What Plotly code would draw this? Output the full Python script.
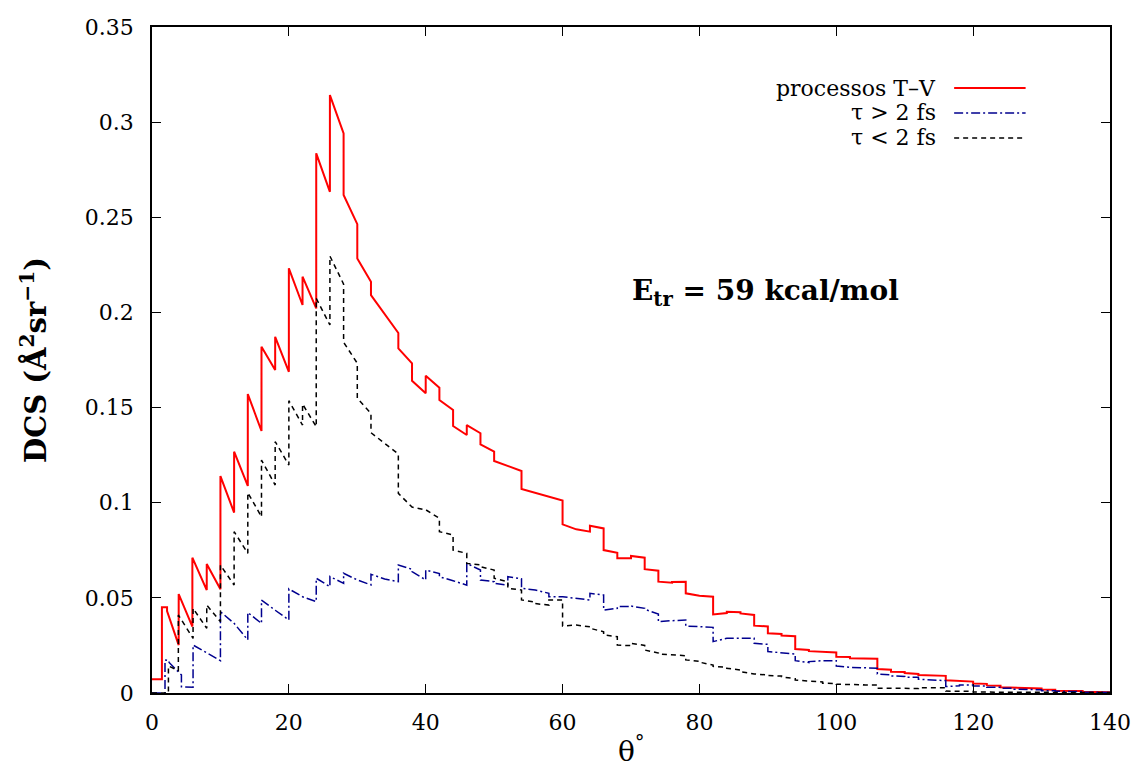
import plotly.graph_objects as go

# ---------------- data ----------------
# Each series is a histogram-like DCS curve: for every bin, the value at its
# left edge and at its right edge (the curve decays inside each bin).
red_edges = [0, 1.45, 2.2, 3.9, 5.9] + list(range(8, 141, 2))
red_start = [0.0072, 0.0450, 0.0430, 0.0520, 0.0711, 0.0678, 0.1140, 0.1268, 0.1571, 0.1820,
             0.1872, 0.2232, 0.2188, 0.2836, 0.3142, 0.2617, 0.2284, 0.2091, 0.1990, 0.1811,
             0.1641, 0.1667, 0.1540, 0.1403, 0.1408, 0.1307, 0.1219, 0.1193, 0.1072, 0.1052,
             0.1032, 0.0886, 0.0860, 0.0879, 0.0751, 0.0708, 0.0720, 0.0651, 0.0585, 0.0583,
             0.0524, 0.0511, 0.0413, 0.0427, 0.0418, 0.0354, 0.0314, 0.0302, 0.0231, 0.0220,
             0.0215, 0.0191, 0.0182, 0.0180, 0.0126, 0.0112, 0.0105, 0.0095, 0.0092, 0.0067,
             0.0063, 0.0050, 0.0040, 0.0030, 0.0026, 0.0025, 0.0018, 0.0012, 0.0011, 0.0006,
             0.0005]
red_end = [0.0072, 0.0450, 0.0252, 0.0349, 0.0541, 0.0545, 0.0948, 0.1088, 0.1377, 0.1697,
           0.1688, 0.2039, 0.2021, 0.2634, 0.2941, 0.2464, 0.2161, 0.1990, 0.1892, 0.1732,
           0.1575, 0.1604, 0.1487, 0.1356, 0.1365, 0.1268, 0.1193, 0.1167, 0.1052, 0.1032,
           0.1011, 0.0860, 0.0848, 0.0865, 0.0737, 0.0708, 0.0711, 0.0643, 0.0580, 0.0585,
           0.0511, 0.0506, 0.0420, 0.0424, 0.0410, 0.0350, 0.0310, 0.0298, 0.0226, 0.0218,
           0.0213, 0.0189, 0.0181, 0.0180, 0.0122, 0.0110, 0.0100, 0.0092, 0.0090, 0.0065,
           0.0060, 0.0048, 0.0038, 0.0029, 0.0025, 0.0024, 0.0017, 0.0012, 0.0010, 0.0006,
           0.0004]

blue_edges = [0, 1.9, 2.5, 4.3] + list(range(6, 141, 2))
blue_start = [0.0000, 0.0173, 0.0160, 0.0033, 0.0252, 0.0212, 0.0427, 0.0366, 0.0423, 0.0488,
              0.0435, 0.0547, 0.0506, 0.0603, 0.0612, 0.0629, 0.0594, 0.0624, 0.0599, 0.0673,
              0.0638, 0.0646, 0.0611, 0.0590, 0.0681, 0.0594, 0.0576, 0.0611, 0.0550, 0.0541,
              0.0506, 0.0506, 0.0498, 0.0524, 0.0436, 0.0454, 0.0457, 0.0440, 0.0375, 0.0380,
              0.0352, 0.0349, 0.0270, 0.0288, 0.0288, 0.0261, 0.0218, 0.0212, 0.0170, 0.0165,
              0.0170, 0.0142, 0.0135, 0.0133, 0.0100, 0.0090, 0.0083, 0.0072, 0.0068, 0.0034,
              0.0042, 0.0037, 0.0030, 0.0025, 0.0020, 0.0018, 0.0012, 0.0009, 0.0008, 0.0004,
              0.0003]
blue_end = [0.0000, 0.0170, 0.0095, 0.0030, 0.0212, 0.0170, 0.0366, 0.0279, 0.0366, 0.0435,
            0.0384, 0.0506, 0.0480, 0.0559, 0.0576, 0.0594, 0.0568, 0.0599, 0.0585, 0.0650,
            0.0594, 0.0628, 0.0590, 0.0567, 0.0646, 0.0585, 0.0567, 0.0600, 0.0541, 0.0524,
            0.0506, 0.0498, 0.0489, 0.0515, 0.0445, 0.0454, 0.0445, 0.0415, 0.0380, 0.0384,
            0.0349, 0.0345, 0.0288, 0.0288, 0.0288, 0.0256, 0.0212, 0.0205, 0.0160, 0.0170,
            0.0170, 0.0135, 0.0133, 0.0130, 0.0095, 0.0087, 0.0083, 0.0069, 0.0065, 0.0038,
            0.0042, 0.0037, 0.0030, 0.0025, 0.0019, 0.0017, 0.0012, 0.0008, 0.0008, 0.0004,
            0.0003]

black_edges = [0, 2.4, 3.85] + list(range(6, 141, 2))
black_start = [0.0000, 0.0142, 0.0410, 0.0445, 0.0462, 0.0672, 0.0848, 0.1053, 0.1224, 0.1321,
               0.1536, 0.1519, 0.2074, 0.2296, 0.1843, 0.1549, 0.1368, 0.1312, 0.1049, 0.0977,
               0.0963, 0.0848, 0.0751, 0.0681, 0.0664, 0.0603, 0.0550, 0.0489, 0.0470, 0.0489,
               0.0352, 0.0357, 0.0340, 0.0305, 0.0252, 0.0261, 0.0226, 0.0205, 0.0200, 0.0174,
               0.0162, 0.0140, 0.0130, 0.0112, 0.0100, 0.0092, 0.0085, 0.0068, 0.0063, 0.0051,
               0.0046, 0.0044, 0.0042, 0.0025, 0.0025, 0.0024, 0.0028, 0.0028, 0.0010, 0.0010,
               0.0005, 0.0005, 0.0002, 0.0002, 0.0002, 0.0002, 0.0002, 0.0002, 0.0002, 0.0002]
black_end = [0.0000, 0.0118, 0.0287, 0.0340, 0.0375, 0.0567, 0.0734, 0.0926, 0.1093, 0.1198,
             0.1408, 0.1399, 0.1934, 0.2149, 0.1733, 0.1469, 0.1312, 0.1256, 0.0979, 0.0962,
             0.0918, 0.0830, 0.0734, 0.0673, 0.0646, 0.0585, 0.0541, 0.0478, 0.0462, 0.0489,
             0.0357, 0.0348, 0.0322, 0.0296, 0.0249, 0.0250, 0.0210, 0.0200, 0.0196, 0.0167,
             0.0147, 0.0135, 0.0121, 0.0103, 0.0095, 0.0089, 0.0075, 0.0063, 0.0058, 0.0050,
             0.0046, 0.0043, 0.0042, 0.0025, 0.0024, 0.0024, 0.0028, 0.0027, 0.0010, 0.0009,
             0.0005, 0.0004, 0.0002, 0.0002, 0.0002, 0.0002, 0.0002, 0.0002, 0.0002, 0.0002]

x_ticks = [0, 20, 40, 60, 80, 100, 120, 140]
y_ticks = [0, 0.05, 0.1, 0.15, 0.2, 0.25, 0.3, 0.35]
legend_labels = ["processos T–V", "τ > 2 fs", "τ < 2 fs"]


def vertices(edges, starts, ends):
    xs, ys = [], []
    for i in range(min(len(starts), len(ends), len(edges) - 1)):
        xs += [edges[i], edges[i + 1]]
        ys += [starts[i], ends[i]]
    return xs, ys


FONT = "DejaVu Serif"
RED = "#ff0000"
BLUE = "#00008f"
BLACK = "#000000"
DASH_BLUE = "9px,3px,2px,3px"
DASH_BLACK = "5px,4px"

fig = go.Figure()
for edges, s, e, col, w, dash, name in [
    (red_edges, red_start, red_end, RED, 2.0, "solid", legend_labels[0]),
    (blue_edges, blue_start, blue_end, BLUE, 1.5, DASH_BLUE, legend_labels[1]),
    (black_edges, black_start, black_end, BLACK, 1.5, DASH_BLACK, legend_labels[2]),
]:
    xs, ys = vertices(edges, s, e)
    fig.add_trace(go.Scatter(x=xs, y=ys, mode="lines", name=name, showlegend=False,
                             line=dict(color=col, width=w, dash=dash)))

# plot-area geometry (pixels) for placing the custom legend
L, R, T, B = 152, 1117, 27, 693
W, H = R - L, B - T


def px(x):
    return (x - L) / W


def py(y):
    return (B - y) / H


shapes = []
annotations = []
rows = [(88, RED, 2.0, "solid"), (113, BLUE, 1.5, DASH_BLUE), (138, BLACK, 1.5, DASH_BLACK)]
for (yy, col, w, d), lab in zip(rows, legend_labels):
    shapes.append(dict(type="line", xref="paper", yref="paper",
                       x0=px(960), x1=px(1032), y0=py(yy), y1=py(yy),
                       line=dict(color=col, width=w, dash=d)))
    annotations.append(dict(text=lab, xref="paper", yref="paper", x=px(944), y=py(yy),
                            xanchor="right", yanchor="middle", showarrow=False,
                            font=dict(family=FONT, size=22, color="black")))

annotations.append(dict(text="<b>E<sub>tr</sub> = 59 kcal/mol</b>", xref="paper", yref="paper",
                        x=px(770), y=py(292), xanchor="center", yanchor="middle",
                        showarrow=False, font=dict(family=FONT, size=28, color="black")))
annotations.append(dict(text="<b>DCS (Å<sup>2</sup>sr<sup>−1</sup>)</b>", xref="paper", yref="paper",
                        x=0, y=0.5, xshift=-(L - 34), xanchor="center", yanchor="middle",
                        textangle=-90, showarrow=False,
                        font=dict(family=FONT, size=29, color="black")))
annotations.append(dict(text="θ<sup>°</sup>", xref="paper", yref="paper",
                        x=0.5, y=0, yshift=-(749 - B), xanchor="center", yanchor="middle",
                        showarrow=False, font=dict(family=FONT, size=28, color="black")))

axis_common = dict(showline=True, linecolor="black", linewidth=1.5, mirror="ticks",
                   ticks="inside", ticklen=9, tickwidth=1.2, tickcolor="black",
                   showgrid=False, zeroline=False,
                   tickfont=dict(family=FONT, size=22, color="black"))

fig.update_layout(
    width=1143, height=770,
    margin=dict(l=L, r=1143 - R, t=T, b=770 - B),
    paper_bgcolor="white", plot_bgcolor="white",
    xaxis=dict(range=[0, 140], tickvals=x_ticks, ticklabelstandoff=9, **axis_common),
    yaxis=dict(range=[0, 0.35], tickvals=y_ticks, ticklabelstandoff=12, **axis_common),
    shapes=shapes, annotations=annotations, showlegend=False,
)

fig.write_html("out.html")
